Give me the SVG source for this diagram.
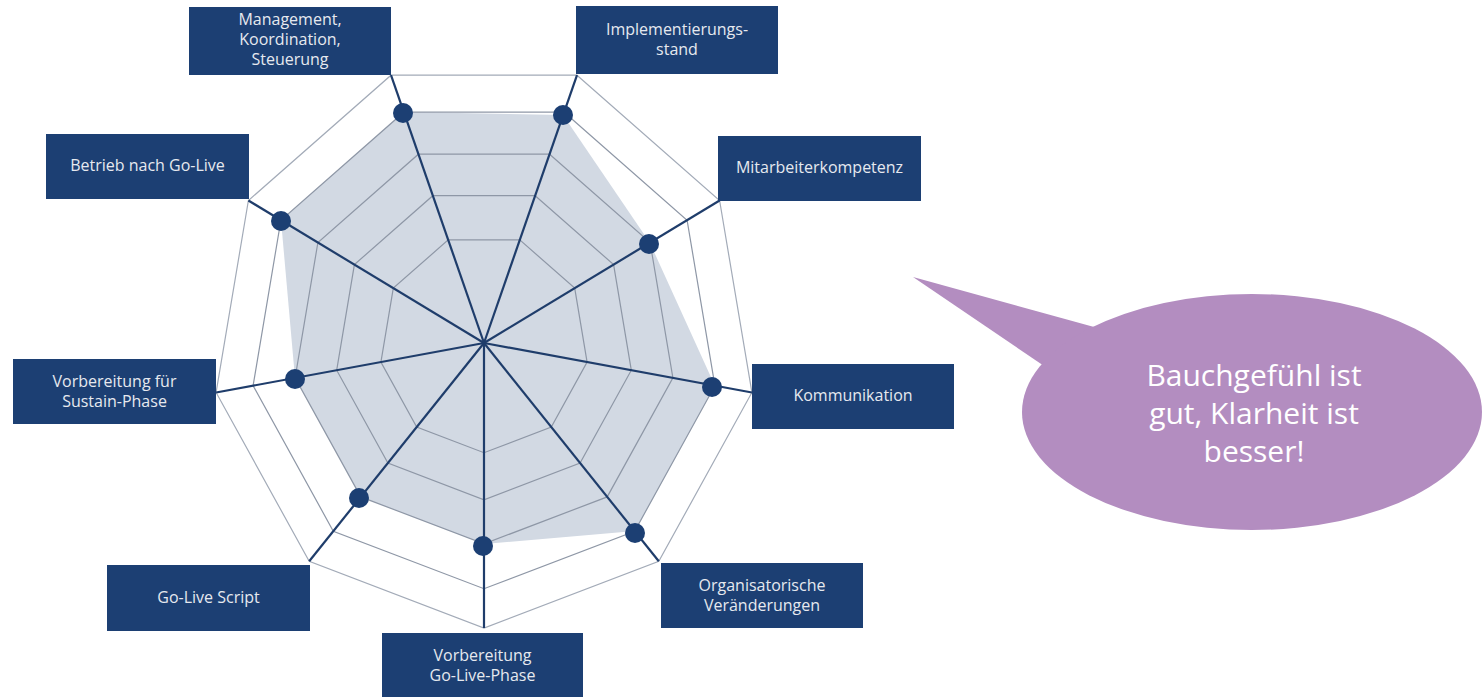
<svg xmlns="http://www.w3.org/2000/svg" width="1482" height="697" viewBox="0 0 1482 697">
<style>
.box{fill:#1c3f73}
.lbl{font-family:"Open Sans","Liberation Sans",sans-serif;font-size:16px;fill:#e6e9ef;text-anchor:middle}
.ring{fill:none;stroke:#8e97a6;stroke-width:1.2}
.outer{fill:none;stroke:#a3abb8;stroke-width:1.2}
.spoke{stroke:#1f3d6b;stroke-width:2.2}
.dot{fill:#1c3f73}
.bub{fill:#b38dc0}
.btxt{font-family:"Open Sans","Liberation Sans",sans-serif;font-size:30px;fill:#ffffff;text-anchor:middle}
</style>
<rect width="1482" height="697" fill="#ffffff"/>
<g id="chart">
  <polygon id="data-area" points="404,112 563,115 650,243 715,386 635,531 484,544 361,497 295,378 281,220" fill="#d2d9e3"/>
  <polygon class="ring" points="519.8,239.9 574.7,288.1 587.1,362.1 551.3,427 484,452.7 416.7,427 380.9,362.1 393.3,288.1 448.2,239.9"/>
  <polygon class="ring" points="535.2,195.7 613.6,264.6 631.3,370.2 580.1,463.1 484,499.8 387.9,463.1 336.7,370.2 354.4,264.6 432.8,195.7"/>
  <polygon class="ring" points="549.6,154.2 650.1,242.5 672.9,377.9 607.2,496.9 484,543.9 360.8,496.9 295.1,377.9 317.9,242.5 418.4,154.2"/>
  <polygon class="ring" points="564.2,112.2 687.1,220.2 714.9,385.7 634.7,531.2 484,588.7 333.3,531.2 253.1,385.7 280.9,220.2 403.8,112.2"/>
  <polygon class="outer" points="577,75.2 719.6,200.5 751.9,392.5 658.8,561.3 484,628 309.2,561.3 216.1,392.5 248.4,200.5 391,75.2"/>
</g>
<g id="connectors">
  <line class="spoke" x1="484" y1="343" x2="577" y2="75.2"/>
  <line class="spoke" x1="484" y1="343" x2="719.6" y2="200.5"/>
  <line class="spoke" x1="484" y1="343" x2="751.9" y2="392.5"/>
  <line class="spoke" x1="484" y1="343" x2="658.8" y2="561.3"/>
  <line class="spoke" x1="484" y1="343" x2="484" y2="628"/>
  <line class="spoke" x1="484" y1="343" x2="309.2" y2="561.3"/>
  <line class="spoke" x1="484" y1="343" x2="216.1" y2="392.5"/>
  <line class="spoke" x1="484" y1="343" x2="248.4" y2="200.5"/>
  <line class="spoke" x1="484" y1="343" x2="391" y2="75.2"/>
</g>
<g id="data-points">
  <circle class="dot" cx="563" cy="115" r="10"/>
  <circle class="dot" cx="649" cy="244" r="10"/>
  <circle class="dot" cx="712" cy="387" r="10"/>
  <circle class="dot" cx="635" cy="533" r="10"/>
  <circle class="dot" cx="483" cy="546" r="10"/>
  <circle class="dot" cx="359" cy="498" r="10"/>
  <circle class="dot" cx="295" cy="379" r="10"/>
  <circle class="dot" cx="281" cy="221" r="10"/>
  <circle class="dot" cx="403" cy="113" r="10"/>
</g>
<g id="n-management">
  <rect class="box" x="189" y="7" width="202" height="68"/>
  <text class="lbl" x="290" y="25">Management,</text>
  <text class="lbl" x="290" y="45">Koordination,</text>
  <text class="lbl" x="290" y="65">Steuerung</text>
</g>
<g id="n-implementierung">
  <rect class="box" x="576" y="6" width="202" height="68"/>
  <text class="lbl" x="677" y="35">Implementierungs-</text>
  <text class="lbl" x="677" y="55">stand</text>
</g>
<g id="n-mitarbeiter">
  <rect class="box" x="718" y="136" width="203" height="65"/>
  <text class="lbl" x="819.5" y="173">Mitarbeiterkompetenz</text>
</g>
<g id="n-kommunikation">
  <rect class="box" x="752" y="364" width="202" height="65"/>
  <text class="lbl" x="853" y="401">Kommunikation</text>
</g>
<g id="n-organisatorisch">
  <rect class="box" x="661" y="563" width="202" height="65"/>
  <text class="lbl" x="762" y="591">Organisatorische</text>
  <text class="lbl" x="762" y="611">Veränderungen</text>
</g>
<g id="n-golive-phase">
  <rect class="box" x="382" y="633" width="201" height="65"/>
  <text class="lbl" x="482.5" y="661">Vorbereitung</text>
  <text class="lbl" x="482.5" y="681">Go-Live-Phase</text>
</g>
<g id="n-golive-script">
  <rect class="box" x="107" y="565" width="203" height="66"/>
  <text class="lbl" x="208.5" y="603">Go-Live Script</text>
</g>
<g id="n-sustain">
  <rect class="box" x="13" y="359" width="203" height="65"/>
  <text class="lbl" x="114.5" y="387">Vorbereitung für</text>
  <text class="lbl" x="114.5" y="407">Sustain-Phase</text>
</g>
<g id="n-betrieb">
  <rect class="box" x="46" y="134" width="203" height="65"/>
  <text class="lbl" x="147.5" y="171">Betrieb nach Go-Live</text>
</g>
<g id="n-bubble">
  <polygon class="bub" points="913,277 1105,330 1050,370"/>
  <ellipse class="bub" cx="1252" cy="412" rx="230" ry="118"/>
  <text class="btxt" x="1254" y="386">Bauchgefühl ist</text>
  <text class="btxt" x="1254" y="424">gut, Klarheit ist</text>
  <text class="btxt" x="1254" y="462">besser!</text>
</g>
</svg>
